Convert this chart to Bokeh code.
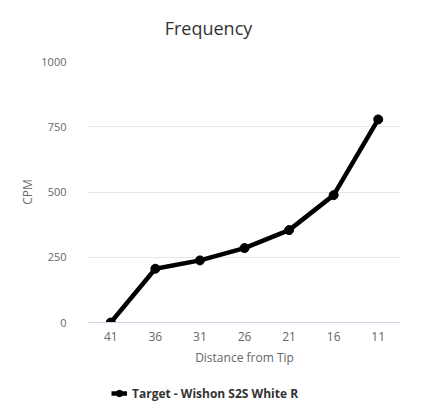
from bokeh.plotting import figure
from bokeh.layouts import column
from bokeh.models import FactorRange, Range1d, Legend, LegendItem, FixedTicker, Label
from bokeh.embed import file_html
from bokeh.resources import INLINE

categories = ["41", "36", "31", "26", "21", "16", "11"]
cpm = [0, 206, 238, 285, 354, 488, 778]
y_ticks = [0, 250, 500, 750, 1000]
series_name = "Target - Wishon S2S White R"
title_text = "Frequency"

FONT = "Open Sans"

# header strip with the chart title (its frame is aligned with the chart frame: 88..400 px)
hd = figure(width=419, height=51, output_backend="svg", toolbar_location=None,
            min_border=0, x_range=Range1d(88, 400), y_range=Range1d(0, 51),
            x_axis_location=None, y_axis_location=None)
hd.grid.visible = False
hd.outline_line_color = None
hd.add_layout(Label(x=208, y=24, text=title_text, text_align="center", text_baseline="middle",
                    text_font=FONT, text_font_size="18px", text_color="#333333"))

p = figure(width=419, height=321, x_range=FactorRange(*categories, range_padding=0),
           y_range=Range1d(0, 1000), output_backend="svg", toolbar_location=None,
           min_border_left=88, min_border_right=19, min_border_top=10, min_border_bottom=50)

p.outline_line_color = None

line = p.line(categories, cpm, line_color="black", line_width=4.5)
dots = p.scatter(categories, cpm, size=9, fill_color="black", line_color="black")

# y axis
p.yaxis.ticker = FixedTicker(ticks=y_ticks)
p.yaxis.axis_line_color = None
p.yaxis.major_tick_line_color = None
p.yaxis.minor_tick_line_color = None
p.yaxis.major_label_standoff = 16
p.yaxis.major_label_text_font = FONT
p.yaxis.major_label_text_font_size = "11px"
p.yaxis.major_label_text_color = "#666666"
p.yaxis.axis_label = "CPM"
p.yaxis.axis_label_text_font = FONT
p.yaxis.axis_label_text_font_size = "12px"
p.yaxis.axis_label_text_font_style = "normal"
p.yaxis.axis_label_text_color = "#666666"
p.yaxis.axis_label_standoff = 2

# x axis
p.xaxis.axis_line_color = "#ccd6eb"
p.xaxis.major_tick_line_color = None
p.xaxis.minor_tick_line_color = None
p.xaxis.major_label_standoff = 3
p.xaxis.major_label_text_font = FONT
p.xaxis.major_label_text_font_size = "12px"
p.xaxis.major_label_text_color = "#666666"
p.xaxis.axis_label = "Distance from Tip"
p.xaxis.axis_label_text_font = FONT
p.xaxis.axis_label_text_font_size = "12px"
p.xaxis.axis_label_text_font_style = "normal"
p.xaxis.axis_label_text_color = "#666666"
p.xaxis.axis_label_standoff = 5

p.xgrid.grid_line_color = None
p.ygrid.grid_line_color = "#e6e6e6"

# legend strip below the chart (its renderers hold no visible data, only the style)
lg = figure(width=419, height=36, output_backend="svg", toolbar_location=None,
            min_border=0, x_range=Range1d(0, 1), y_range=Range1d(0, 1),
            x_axis_location=None, y_axis_location=None)
lg.grid.visible = False
lg.outline_line_color = None
lg_line = lg.line([5, 6], [5, 5], line_color="black", line_width=4.5)
lg_dots = lg.scatter([5], [5], size=9, fill_color="black", line_color="black")

legend = Legend(items=[LegendItem(label=series_name, renderers=[lg_line, lg_dots])],
                orientation="horizontal", location=(23, 5))
legend.label_text_font = FONT
legend.label_text_font_size = "12px"
legend.label_text_font_style = "bold"
legend.label_text_color = "#333333"
legend.glyph_width = 16
legend.border_line_color = None
legend.background_fill_alpha = 0
legend.padding = 4
legend.margin = 0
lg.add_layout(legend, "center")

layout = column(hd, p, lg, spacing=0)
open("out.html", "w").write(file_html(layout, INLINE))
